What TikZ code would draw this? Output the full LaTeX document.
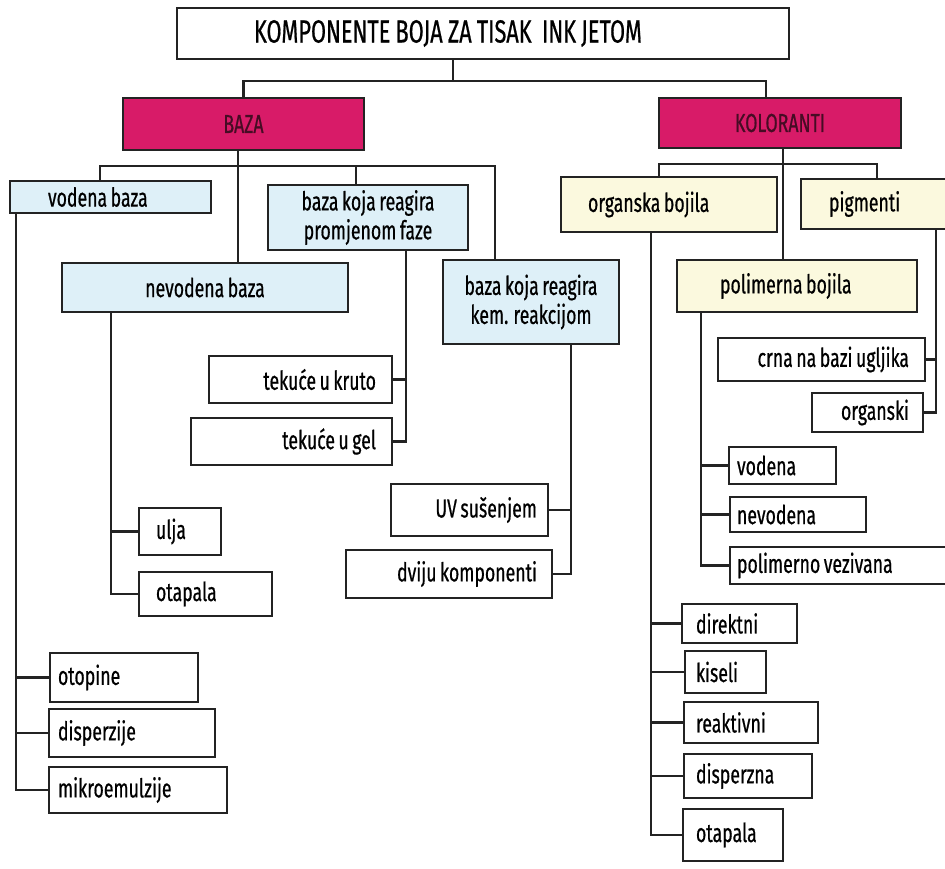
\documentclass[tikz,border=0pt]{standalone}
\usepackage{fontspec}
\setmainfont{Fira Sans}[FakeStretch=0.68, WordSpace=0.75, FakeBold=0.6]
\newfontfamily\titlefont{Fira Sans}[FakeStretch=0.68, WordSpace=0.9, FakeBold=0.6]

\definecolor{bazared}{RGB}{216,27,104}
\definecolor{bazatext}{RGB}{70,12,36}
\definecolor{bazablue}{RGB}{222,240,248}
\definecolor{bojayellow}{RGB}{251,249,222}
\definecolor{boxline}{RGB}{35,35,35}

\tikzset{
  box/.style={draw=boxline, line width=2.2pt, inner sep=0pt, fill=white,
    font=\fontsize{26}{29}\selectfont},
  headbox/.style={box, fill=bazared, text=bazatext, font=\fontsize{26}{29}\selectfont},
  bluebox/.style={box, fill=bazablue},
  yellowbox/.style={box, fill=bojayellow},
  link/.style={draw=boxline, line width=2.2pt}
}

\begin{document}
\begin{tikzpicture}[x=1pt,y=-1pt]
\useasboundingbox (0,0) rectangle (945,868);
\clip (0,0) rectangle (945,868);

% top
\node [box, minimum height=51pt, text width=458pt, inner xsep=77pt, align=flush left,
  font=\titlefont\fontsize{32}{34}\selectfont] (title) at (483,33.5)
  {KOMPONENTE BOJA ZA TISAK\ \ INK JETOM};
\node [headbox, minimum width=241pt, minimum height=52pt] (baza) at (243.5,124) {BAZA};
\node [headbox, minimum width=242pt, minimum height=50pt] (kol) at (780,123) {KOLORANTI};

% baza
\node [bluebox, minimum height=32pt, text width=125pt, inner xsep=38pt, align=flush left] (vb) at (110.5,197) {vodena baza};
\node [bluebox, minimum width=200pt, minimum height=65pt, align=center] (faza) at (368,217.5) {baza koja reagira\\promjenom faze};
\node [bluebox, minimum width=286pt, minimum height=49pt] (nvb) at (205,287.5) {nevodena baza};
\node [bluebox, minimum width=176pt, minimum height=84pt, align=center] (kem) at (531,302) {baza koja reagira\\kem. reakcijom};

\node [box, minimum height=47pt, text width=151pt, inner xsep=16pt, align=flush right] (kruto) at (300.5,379.5) {tekuće u kruto};
\node [box, minimum height=47pt, text width=169pt, inner xsep=16pt, align=flush right] (gel) at (291.5,441.5) {tekuće u gel};
\node [box, minimum height=47pt, text width=48pt, inner xsep=17pt, align=flush left] (ulja) at (180,531.5) {ulja};
\node [box, minimum height=44pt, text width=99pt, inner xsep=17pt, align=flush left] (otl) at (205.5,594) {otapala};
\node [box, minimum height=52pt, text width=135pt, inner xsep=11pt, align=flush right] (uv) at (469.5,510) {UV sušenjem};
\node [box, minimum height=48pt, text width=176pt, inner xsep=15pt, align=flush right] (dvk) at (449,574) {dviju komponenti};
\node [box, minimum height=49pt, text width=132pt, inner xsep=8pt, align=flush left] (otop) at (124,677.5) {otopine};
\node [box, minimum height=48pt, text width=148pt, inner xsep=9pt, align=flush left] (disp) at (132,733) {disperzije};
\node [box, minimum height=46pt, text width=160pt, inner xsep=9pt, align=flush left] (mik) at (138,790) {mikroemulzije};

% koloranti
\node [yellowbox, minimum height=55pt, text width=162pt, inner xsep=27pt, align=flush left] (org) at (669,204.5) {organska bojila};
\node [yellowbox, minimum height=50pt, text width=134pt, inner xsep=28pt, align=flush left] (pig) at (896,204) {pigmenti};
\node [yellowbox, minimum height=52pt, text width=154pt, inner xsep=43pt, align=flush left] (pol) at (797,286) {polimerna bojila};

\node [box, minimum height=43pt, text width=175pt, inner xsep=16pt, align=flush right] (crna) at (821.5,359.5) {crna na bazi ugljika};
\node [box, minimum height=39pt, text width=83pt, inner xsep=14pt, align=flush right] (ork) at (867.5,412.5) {organski};
\node [box, minimum height=37pt, text width=91pt, inner xsep=8pt, align=flush left] (pvo) at (782.5,465.5) {vodena};
\node [box, minimum height=35pt, text width=122pt, inner xsep=7pt, align=flush left] (pnv) at (798,514.5) {nevodena};
\node [box, minimum height=37pt, text width=216pt, inner xsep=7pt, align=flush left] (pve) at (845,565.5) {polimerno vezivana};

\node [box, minimum height=39pt, text width=87pt, inner xsep=14pt, align=flush left] (dir) at (739.5,623.5) {direktni};
\node [box, minimum height=42pt, text width=59pt, inner xsep=11pt, align=flush left] (kis) at (725.5,672) {kiseli};
\node [box, minimum height=41pt, text width=110pt, inner xsep=12pt, align=flush left] (rea) at (751,722.5) {reaktivni};
\node [box, minimum height=44pt, text width=104pt, inner xsep=12pt, align=flush left] (dsp) at (748,776) {disperzna};
\node [box, minimum height=52pt, text width=74pt, inner xsep=13pt, align=flush left] (otr) at (733,835) {otapala};

% veze gore
\coordinate (tb) at (453,81);
\draw [link] (tb |- title.south) -- (tb);
\draw [link] (baza.north) |- (tb) -| ([xshift=-14pt]kol.north);

\coordinate (bb) at (238,166);
\coordinate (bbl) at (100,166);
\coordinate (bbf) at (356,166);
\coordinate (bbr) at (495,166);
\draw [link] (bb |- baza.south) -- (bb |- nvb.north);
\draw [link] (bbl |- vb.north) |- (bbr) -- (bbr |- kem.north);
\draw [link] (bbf) -- (bbf |- faza.north);

\coordinate (kb) at (783,164);
\coordinate (kbl) at (659,164);
\coordinate (kbr) at (877,164);
\draw [link] (kb |- kol.south) -- (kb |- pol.north);
\draw [link] (kbl |- org.north) |- (kbr) -- (kbr |- pig.north);

% ogranci
\coordinate (vbs) at ([xshift=7pt]vb.south west);
\draw [link] (vbs) |- (mik.west);
\foreach \n in {otop,disp} \draw [link] (\n.west) -- (\n.west -| vbs);

\coordinate (nvs) at ([xshift=50pt]nvb.south west);
\draw [link] (nvs) |- (otl.west);
\draw [link] (ulja.west) -- (ulja.west -| nvs);

\coordinate (fzs) at ([xshift=38pt]faza.south);
\draw [link] (fzs) |- (gel.east);
\draw [link] (kruto.east) -- (kruto.east -| fzs);

\coordinate (kms) at ([xshift=40pt]kem.south);
\draw [link] (kms) |- (dvk.east);
\draw [link] (uv.east) -- (uv.east -| kms);

\coordinate (ogs) at ([xshift=91pt]org.south west);
\draw [link] (ogs) |- (otr.west);
\foreach \n in {dir,kis,rea,dsp} \draw [link] (\n.west) -- (\n.west -| ogs);

\coordinate (pls) at ([xshift=25pt]pol.south west);
\draw [link] (pls) |- (pve.west);
\foreach \n in {pvo,pnv} \draw [link] (\n.west) -- (\n.west -| pls);

\coordinate (pgs) at ([xshift=136pt]pig.south west);
\draw [link] (pgs) |- (ork.east);
\draw [link] (crna.east) -- (crna.east -| pgs);
\end{tikzpicture}
\end{document}
